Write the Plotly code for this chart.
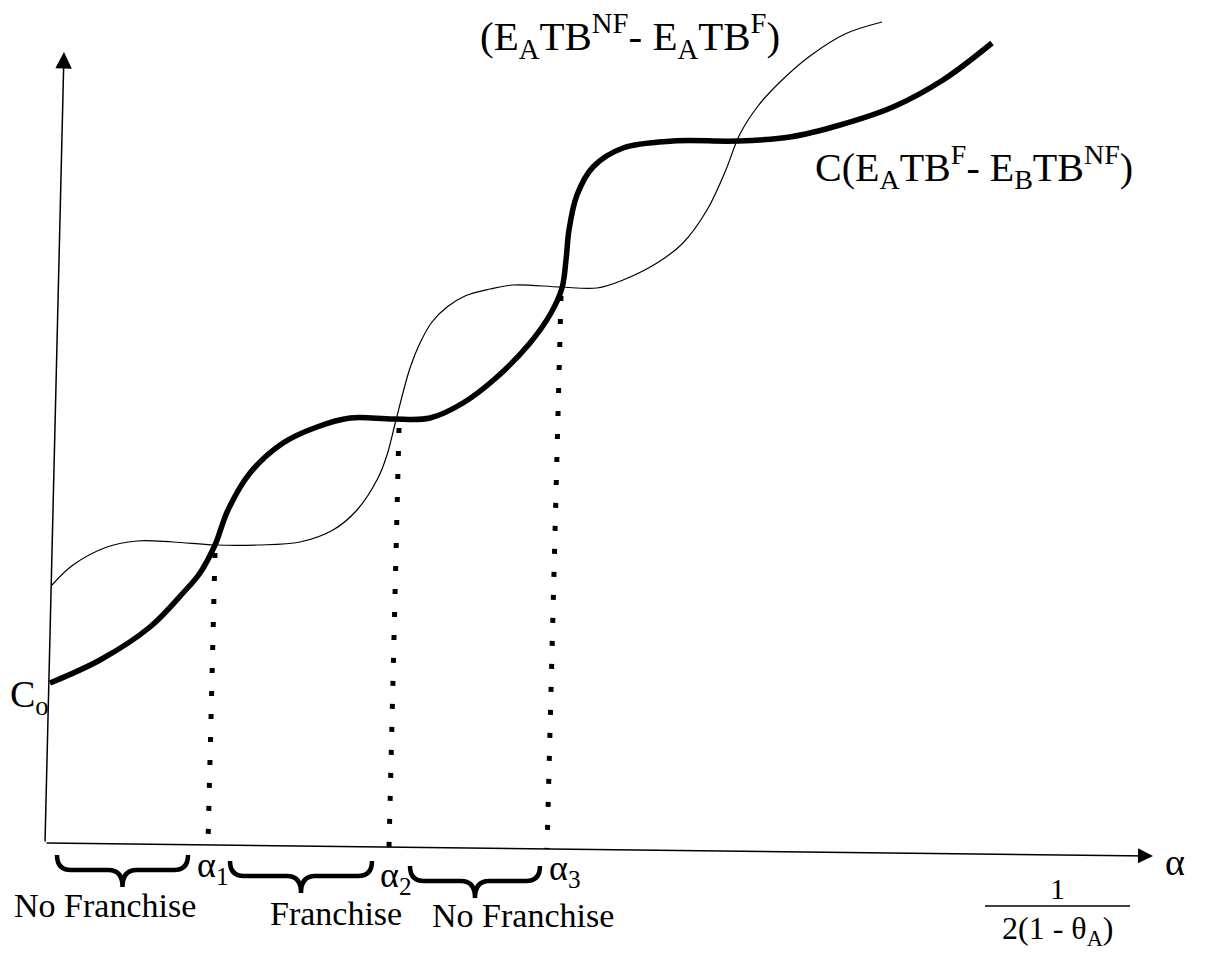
import plotly.graph_objects as go

W, H = 1206, 958

# ---- data (in picture pixels) ----
thick_x = [50, 100, 150, 183, 200, 215, 228, 250, 283, 317, 350, 393, 430, 463, 497, 530,
           551, 562, 566, 569, 577, 593, 623, 673, 737, 790, 840, 893, 943, 992]
thick_y = [683, 660, 627, 593, 573, 545, 510, 473, 443, 427, 418, 419, 418, 403, 377, 343,
           313, 288, 260, 230, 195, 167, 148, 141, 141, 137, 125, 107, 80, 43]

thin_x = [52, 73, 107, 137, 173, 215, 257, 300, 333, 357, 378, 387, 396, 410, 420, 432, 447,
          465, 490, 513, 560, 597, 623, 657, 683, 707, 725, 740, 758, 780, 810, 845, 882]
thin_y = [585, 565, 547, 541, 542, 545, 545, 542, 530, 510, 478, 455, 420, 368, 343, 322, 307,
          296, 289, 285, 287, 288, 280, 263, 243, 210, 172, 134, 106, 82, 56, 34, 22]

alpha_top_x = [215, 399, 561]
alpha_top_y = [553, 428, 296]
alpha_base_x = [208, 389, 547]
alpha_base_y = [843, 847, 849]
alpha_labels = ["α<sub>1</sub>", "α<sub>2</sub>", "α<sub>3</sub>"]
alpha_label_x = [195, 378, 547]
alpha_label_y = [867, 877, 870]

brace_x0 = [57, 230, 410]
brace_x1 = [188, 372, 540]
brace_top = [855, 861, 866]
region_labels = ["No Franchise", "Franchise", "No Franchise"]
region_label_x = [105, 336, 523]
region_label_y = [905, 913, 915]

origin = [45, 843]
y_tip = [64, 52]
x_tip = [1153, 856]

label_top = "(E<sub>A</sub>TB<sup>NF</sup>- E<sub>A</sub>TB<sup>F</sup>)"
label_right = "C(E<sub>A</sub>TB<sup>F</sup>- E<sub>B</sub>TB<sup>NF</sup>)"
label_c0 = "C<sub>o</sub>"
label_alpha = "α"
frac_num = "1"
frac_den = "2(1 - θ<sub>A</sub>)"

FONT = "Liberation Serif"

fig = go.Figure()

# curves
fig.add_trace(go.Scatter(x=thin_x, y=thin_y, mode="lines",
                         line=dict(color="black", width=1.2, shape="spline", smoothing=1.0),
                         hoverinfo="skip", showlegend=False))
fig.add_trace(go.Scatter(x=thick_x, y=thick_y, mode="lines",
                         line=dict(color="black", width=5.5, shape="spline", smoothing=1.0),
                         hoverinfo="skip", showlegend=False))

# dotted alpha lines
for xt, yt, xb, yb in zip(alpha_top_x, alpha_top_y, alpha_base_x, alpha_base_y):
    fig.add_trace(go.Scatter(x=[xt, xb], y=[yt, yb], mode="lines",
                             line=dict(color="black", width=5, dash="5px,18px"),
                             hoverinfo="skip", showlegend=False))

annotations = []
# axes with arrows
annotations.append(dict(x=y_tip[0], y=y_tip[1], ax=origin[0], ay=origin[1],
                        xref="x", yref="y", axref="x", ayref="y", text="",
                        showarrow=True, arrowhead=2, arrowsize=2.2, arrowwidth=1.5,
                        arrowcolor="black"))
annotations.append(dict(x=x_tip[0], y=x_tip[1], ax=origin[0], ay=origin[1],
                        xref="x", yref="y", axref="x", ayref="y", text="",
                        showarrow=True, arrowhead=2, arrowsize=2.0, arrowwidth=1.5,
                        arrowcolor="black"))

def txt(x, y, s, size, xanchor="center", yanchor="middle"):
    return dict(x=x, y=y, xref="x", yref="y", text=s, showarrow=False,
                xanchor=xanchor, yanchor=yanchor,
                font=dict(family=FONT, size=size, color="black"))

annotations.append(txt(630, 36, label_top, 41))
annotations.append(txt(813, 167, label_right, 40, xanchor="left"))
annotations.append(txt(8, 697, label_c0, 38, xanchor="left"))
annotations.append(txt(1163, 862, label_alpha, 38, xanchor="left"))
annotations.append(txt(1057, 888, frac_num, 30))
annotations.append(txt(1057, 930, frac_den, 32))

for s, x, y in zip(alpha_labels, alpha_label_x, alpha_label_y):
    annotations.append(txt(x, y, s, 36, xanchor="left"))
for s, x, y in zip(region_labels, region_label_x, region_label_y):
    annotations.append(txt(x, y, s, 34))

shapes = []
# fraction bar
shapes.append(dict(type="line", xref="x", yref="y", x0=985, x1=1130, y0=906, y1=906,
                   line=dict(color="black", width=1.5)))
# braces
for x0, x1, y0 in zip(brace_x0, brace_x1, brace_top):
    xm = (x0 + x1) / 2
    b, t, r = 15, 32, 14
    p = (f"M {x0},{y0} Q {x0},{y0+b} {x0+r},{y0+b} L {xm-r},{y0+b} "
         f"Q {xm},{y0+b} {xm},{y0+t} Q {xm},{y0+b} {xm+r},{y0+b} "
         f"L {x1-r},{y0+b} Q {x1},{y0+b} {x1},{y0}")
    shapes.append(dict(type="path", xref="x", yref="y", path=p,
                       line=dict(color="black", width=4.5)))

fig.update_layout(
    width=W, height=H, margin=dict(l=0, r=0, t=0, b=0),
    paper_bgcolor="white", plot_bgcolor="white",
    xaxis=dict(range=[0, W], visible=False, fixedrange=True),
    yaxis=dict(range=[H, 0], visible=False, fixedrange=True),
    annotations=annotations, shapes=shapes, showlegend=False,
)

fig.write_html("out.html", config={"displayModeBar": False},
               post_script="document.body.style.margin='0';")
